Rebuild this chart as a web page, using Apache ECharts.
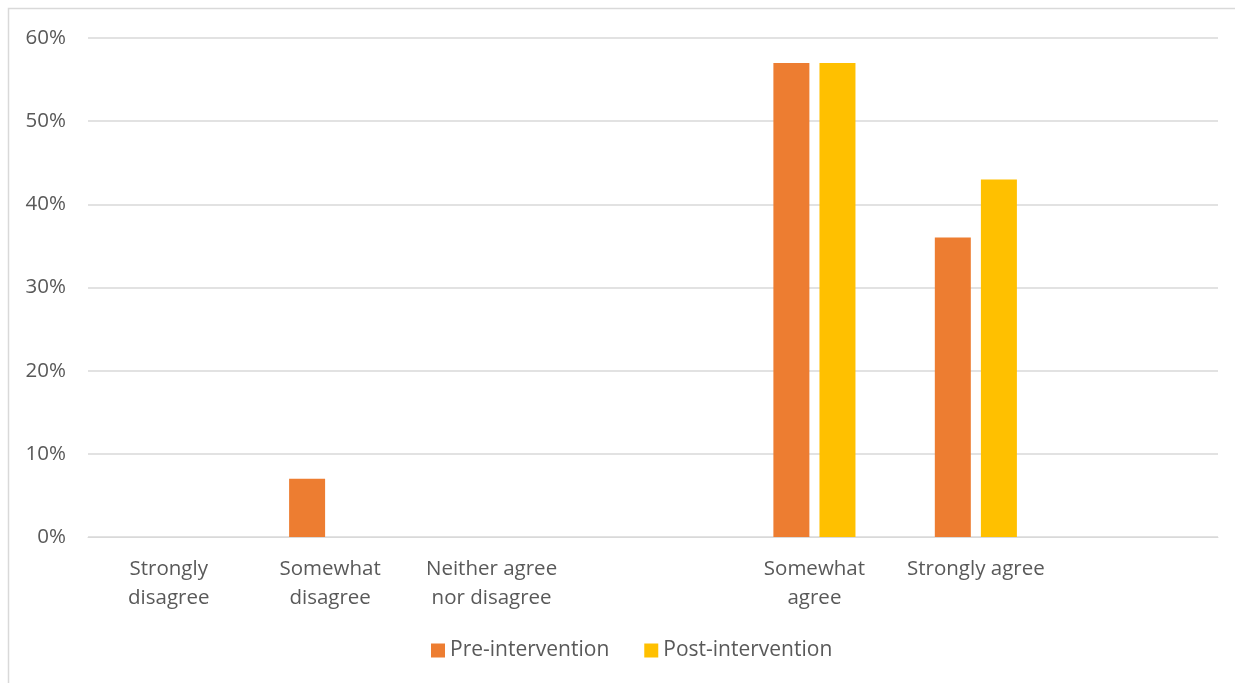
<!DOCTYPE html>
<html>
<head>
<meta charset="utf-8">
<script src="https://cdn.jsdelivr.net/npm/echarts@6/dist/echarts.min.js"></script>
<style>
  html, body { margin: 0; padding: 0; background: #fff; }
  #chart { width: 1235px; height: 683px; }
</style>
</head>
<body>
<div id="chart"></div>
<script>
// categories (two blank slots, as in the original chart)
var categories = ['Strongly\ndisagree', 'Somewhat\ndisagree', 'Neither agree\nnor disagree', '', 'Somewhat\nagree', 'Strongly agree', ''];
var seriesNames = ['Pre-intervention', 'Post-intervention'];
var preValues = [0, 7, 0, null, 57, 36, null];
var postValues = [0, 0, 0, null, 57, 43, null];
var yTicks = [0, 10, 20, 30, 40, 50, 60];

var chart = echarts.init(document.getElementById('chart'));
var font = 'Open Sans';

var option = {
    animation: false,
    backgroundColor: '#fff',
    graphic: [{
        type: 'rect',
        shape: { x: 8.5, y: 8.5, width: 1240, height: 700 },
        style: { fill: 'none', stroke: '#d9d9d9', lineWidth: 1.5 }
    }],
    legend: {
        data: seriesNames,
        bottom: 17,
        left: 426,
        itemWidth: 14,
        itemHeight: 14,
        itemGap: 35,
        icon: 'rect',
        textStyle: { color: '#595959', fontSize: 21, fontFamily: font }
    },
    grid: {
        left: 88,
        right: 17,
        top: 38,
        bottom: 146
    },
    xAxis: {
        type: 'category',
        data: categories,
        axisLine: { lineStyle: { color: '#d9d9d9' } },
        axisTick: { show: false },
        axisLabel: {
            color: '#595959',
            fontSize: 20.5,
            fontFamily: font,
            lineHeight: 29,
            margin: 18,
            interval: 0
        }
    },
    yAxis: {
        type: 'value',
        min: yTicks[0],
        max: yTicks[yTicks.length - 1],
        interval: 10,
        axisLine: { show: false },
        axisTick: { show: false },
        splitLine: { lineStyle: { color: '#d9d9d9', width: 1.5 } },
        axisLabel: {
            color: '#595959',
            fontSize: 20.5,
            fontFamily: font,
            margin: 22,
            formatter: function (v) { return v + '%'; }
        }
    },
    series: [{
        name: seriesNames[0],
        type: 'bar',
        data: preValues,
        barWidth: 36,
        barGap: '28%',
        itemStyle: { color: '#ed7d31' }
    }, {
        name: seriesNames[1],
        type: 'bar',
        data: postValues,
        barWidth: 36,
        barGap: '28%',
        itemStyle: { color: '#ffc000' }
    }]
};

chart.setOption(option);

window.onresize = function () {
    chart.resize();
};
</script>
</body>
</html>
